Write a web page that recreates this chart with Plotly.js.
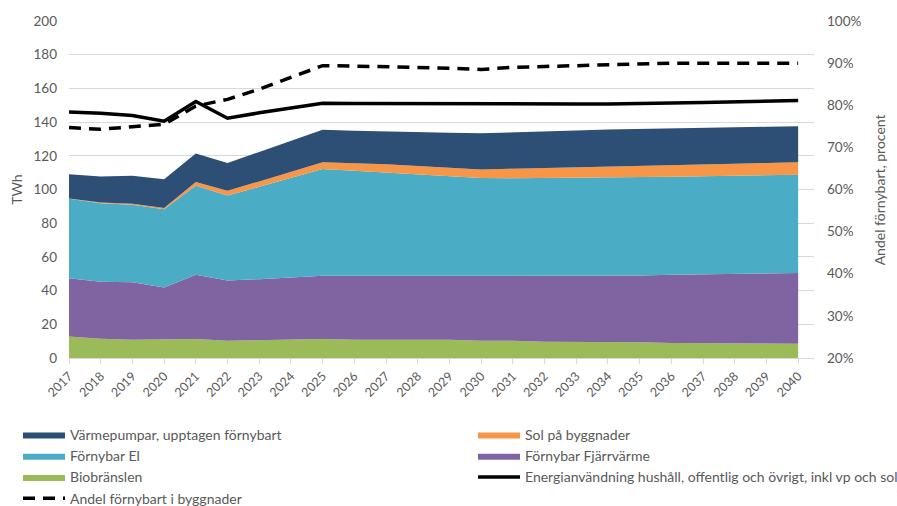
<!DOCTYPE html>
<html>
<head>
<meta charset="utf-8">
<script src="https://cdn.plot.ly/plotly-3.0.1.min.js"></script>
<style>html,body{margin:0;padding:0;background:#fff;}#chart{width:897px;height:506px;}</style>
</head>
<body>
<div id="chart"></div>
<script>
const years = [2017,2018,2019,2020,2021,2022,2023,2024,2025,2026,2027,2028,2029,2030,2031,2032,2033,2034,2035,2036,2037,2038,2039,2040];
const yearLabels = years.map(String);

const biobransle   = [12.8,11.4,10.9,10.9,11.3,10.3,10.7,10.7,11.3,10.9,10.9,10.9,10.9,10.3,10.3,9.7,9.7,9.3,9.3,8.9,8.9,8.9,8.5,8.5];
const fjarrvarme   = [34.6,33.8,34.1,31.0,38.1,35.7,36.1,36.9,37.5,37.9,37.9,37.9,37.9,38.5,38.5,39.1,39.1,39.6,39.6,40.5,40.7,40.9,41.6,41.9];
const fornybarEl   = [47.1,46.7,45.9,46.4,52.8,50.4,54.8,59.3,63.3,62.3,61.3,60.2,59.1,58.0,57.9,58.0,58.2,58.2,58.4,58.2,58.3,58.4,58.4,58.3];
const solBygg      = [0.2,0.4,0.7,0.7,2.2,2.8,3.2,3.6,4.1,4.5,4.9,4.9,4.9,5.1,5.6,5.9,6.0,6.2,6.4,6.7,6.9,7.1,7.3,7.5];
const varmepumpar  = [14.4,15.4,16.5,17.1,16.9,16.6,17.5,18.3,19.2,19.3,19.4,20.1,20.9,21.5,21.5,21.7,22.0,22.3,22.3,22.0,21.8,21.6,21.4,21.3];
const energianv    = [146.0,145.3,143.9,140.5,152.2,142.3,145.5,148.5,151.2,151.1,151.0,150.9,150.9,150.6,150.6,150.7,150.8,150.8,150.9,151.3,151.7,152.1,152.5,152.8];
const andelProcent = [74.7,74.3,74.9,75.5,79.8,81.4,83.8,86.6,89.4,89.3,89.2,89.0,88.8,88.5,89.0,89.2,89.4,89.8,90.0,90.0,90.0,90.0,90.0,90.0];

const yTitle = 'TWh';
const y2Title = 'Andel förnybart, procent';

const FONT = 'Lato, "Open Sans", sans-serif';
const GRAY = '#595959';
const GRID = '#D9D9D9';

function area(name, vals, color, legend, rank) {
  return {
    type: 'scatter', mode: 'lines', x: years, y: vals, name: name,
    stackgroup: 'one', line: {width: 0, color: color}, fillcolor: color,
    legend: legend, legendrank: rank, legendgroup: name, hoverinfo: 'skip'
  };
}

const traces = [
  area('Biobränslen', biobransle, '#9BBB59', 'legend', 3),
  area('Förnybar Fjärrvärme', fjarrvarme, '#8064A2', 'legend2', 2),
  area('Förnybar El', fornybarEl, '#4BACC6', 'legend', 2),
  area('Sol på byggnader', solBygg, '#F79646', 'legend2', 1),
  area('Värmepumpar, upptagen förnybart', varmepumpar, '#2D4E75', 'legend', 1),
  {
    type: 'scatter', mode: 'lines', x: years, y: energianv,
    name: 'Energianvändning hushåll, offentlig och övrigt, inkl vp och sol',
    line: {color: '#000000', width: 3.5}, legend: 'legend2', legendrank: 3,
    legendgroup: 'e', hoverinfo: 'skip'
  },
  {
    type: 'scatter', mode: 'lines', x: years, y: andelProcent, yaxis: 'y2',
    name: 'Andel förnybart i byggnader',
    line: {color: '#000000', width: 3.5, dash: '12px,8px'}, legend: 'legend', legendrank: 4,
    legendgroup: 'a', hoverinfo: 'skip'
  }
];

const legendBase = {
  orientation: 'v', xref: 'container', yref: 'container',
  yanchor: 'top', xanchor: 'left', y: 1 - 419/506,
  font: {family: FONT, size: 14, color: GRAY}, itemwidth: 42,
  bgcolor: 'rgba(0,0,0,0)', traceorder: 'grouped', tracegroupgap: 0
};

const plotW = 745, plotH = 337.3, mL = 69, mT = 21;

const layout = {
  width: 897, height: 506,
  margin: {l: mL, r: 83, t: mT, b: 148, autoexpand: false},
  paper_bgcolor: '#ffffff', plot_bgcolor: '#ffffff',
  font: {family: FONT, size: 13, color: GRAY},
  showlegend: true,
  xaxis: {
    range: [2017, 2040.5], tickvals: years, ticktext: yearLabels,
    tickangle: -45, ticks: 'outside', ticklen: 5, tickcolor: GRID,
    showline: true, linecolor: GRID, linewidth: 1,
    showgrid: false, zeroline: false, automargin: false,
    tickfont: {family: FONT, size: 12.5, color: GRAY}
  },
  yaxis: {
    range: [0, 200], dtick: 20, showgrid: true, gridcolor: GRID, gridwidth: 1,
    zeroline: false, showline: false, ticks: '', automargin: false,
    ticklabelstandoff: 11,
    tickfont: {family: FONT, size: 13.5, color: GRAY}
  },
  yaxis2: {
    overlaying: 'y', side: 'right', range: [20, 100], dtick: 10, ticksuffix: '%',
    showgrid: false, zeroline: false, showline: false, ticks: '', automargin: false,
    ticklabelstandoff: 12,
    tickfont: {family: FONT, size: 13.5, color: GRAY}
  },
  annotations: [
    {text: yTitle, xref: 'paper', yref: 'paper', x: (17 - mL) / plotW, y: (358.3 - 190) / plotH,
     xanchor: 'center', yanchor: 'middle', textangle: -90, showarrow: false,
     font: {family: FONT, size: 14, color: GRAY}},
    {text: y2Title, xref: 'paper', yref: 'paper', x: (879 - mL) / plotW, y: (358.3 - 190.5) / plotH,
     xanchor: 'center', yanchor: 'middle', textangle: -90, showarrow: false,
     font: {family: FONT, size: 14, color: GRAY}}
  ],
  legend: Object.assign({}, legendBase, {x: 18/897}),
  legend2: Object.assign({}, legendBase, {x: 473/897})
};

Plotly.newPlot('chart', traces, layout, {displayModeBar: false, staticPlot: true});
</script>
</body>
</html>
